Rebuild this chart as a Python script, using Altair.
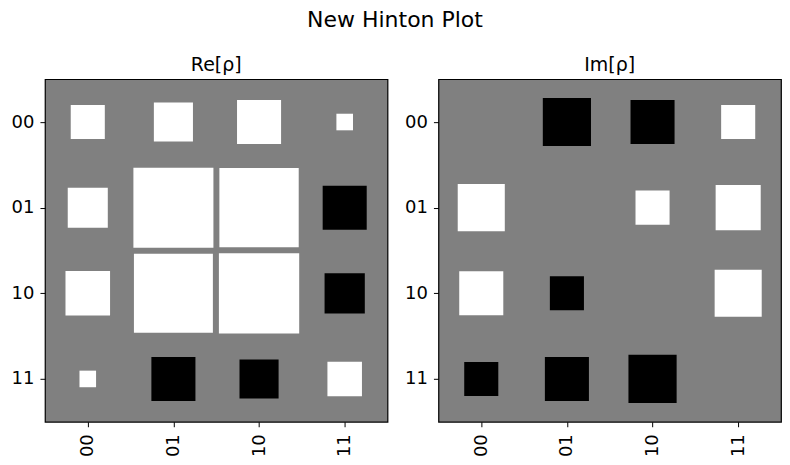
import altair as alt
import pandas as pd

labels = ["00", "01", "10", "11"]

re_vals = [
    [0.076, 0.100, 0.127, 0.018],
    [0.105, 0.419, 0.412, -0.127],
    [0.130, 0.408, 0.422, -0.106],
    [0.018, -0.127, -0.100, 0.078],
]

im_vals = [
    [0.0, -0.152, -0.127, 0.076],
    [0.145, 0.0, 0.076, 0.133],
    [0.127, -0.076, 0.0, 0.145],
    [-0.076, -0.127, -0.152, 0.0],
]

w_max = 0.48
panel = 343
cell = panel / 4
FONT = "DejaVu Sans"


def to_df(mat):
    rows = []
    for i, r in enumerate(labels):
        for j, c in enumerate(labels):
            v = mat[i][j]
            rows.append({"row": r, "col": c, "w": v, "absw": abs(v),
                         "sign": "pos" if v >= 0 else "neg"})
    return pd.DataFrame(rows)


def hinton(mat, title):
    df = to_df(mat)
    return alt.Chart(df).mark_square(opacity=1, filled=True, strokeWidth=0).encode(
        x=alt.X("col:O", scale=alt.Scale(domain=labels, paddingInner=0, paddingOuter=0),
                axis=alt.Axis(title=None, labelAngle=270, grid=False, domain=False,
                              tickColor="black", tickSize=5, labelFontSize=18,
                              labelColor="black", labelFont=FONT, labelPadding=7)),
        y=alt.Y("row:O", scale=alt.Scale(domain=labels, paddingInner=0, paddingOuter=0),
                axis=alt.Axis(title=None, grid=False, domain=False, tickColor="black",
                              tickSize=5, labelFontSize=18, labelColor="black",
                              labelFont=FONT, labelPadding=6, minExtent=36)),
        size=alt.Size("absw:Q", scale=alt.Scale(domain=[0, w_max], range=[0, cell * cell]),
                      legend=None),
        color=alt.Color("sign:N", scale=alt.Scale(domain=["pos", "neg"], range=["white", "black"]),
                        legend=None),
    ).properties(
        width=panel, height=panel,
        title=alt.TitleParams(title, fontSize=19, font=FONT, fontWeight="normal",
                              color="black", offset=4),
    )


chart = alt.hconcat(
    hinton(re_vals, "Re[ρ]"),
    hinton(im_vals, "Im[ρ]"),
    spacing=13,
).properties(
    title=alt.TitleParams("New Hinton Plot", fontSize=22, font=FONT, fontWeight="normal",
                          color="black", anchor="middle", offset=24),
    padding=0,
).configure_view(
    fill="#808080", stroke="black", strokeWidth=1.2
)

chart.save("out.html", embed_options={"renderer": "svg", "actions": False})
